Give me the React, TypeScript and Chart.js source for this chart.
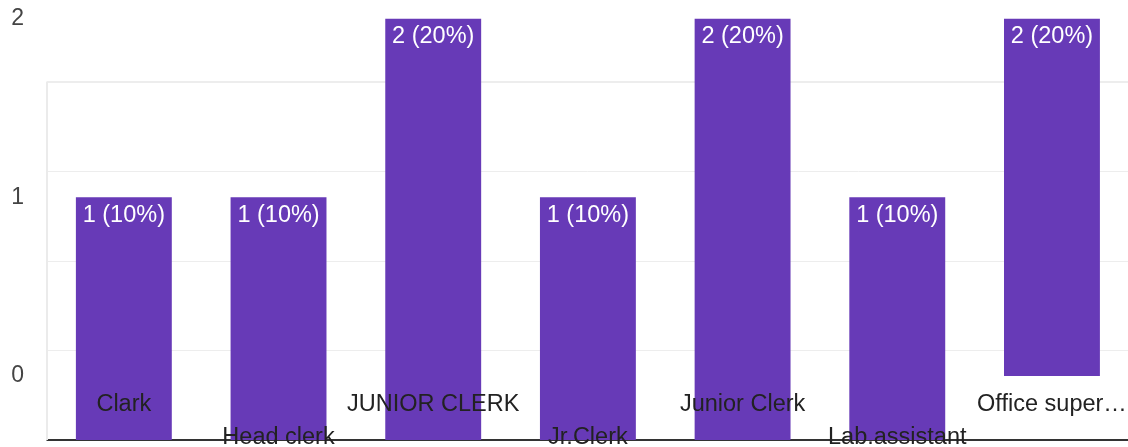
import React, { useEffect, useRef } from "react";
import { Chart, registerables } from "chart.js";

Chart.register(...registerables);

const CATEGORIES = [
  "Clark",
  "Head clerk",
  "JUNIOR CLERK",
  "Jr.Clerk",
  "Junior Clerk",
  "Lab.assistant",
  "Office super…",
];
const COUNTS = [1, 1, 2, 1, 2, 1, 2];
const PERCENTS = [10, 10, 20, 10, 20, 10, 20];
const Y_TICKS = [0, 1, 2];
const Y_MIN = -0.358;
const Y_MAX = 2;
const GRID_VALUES = [0, 1, 2, 3, 4];
const GRID_MAX = 4.71;

const FONT = '"Liberation Sans", Arial, sans-serif';
const BAR_COLOR = "#673ab7";

const overlay = {
  id: "overlay",
  beforeDatasetsDraw(chart: any) {
    const { ctx, chartArea } = chart;
    const g = chart.scales.grid;
    ctx.save();
    ctx.strokeStyle = "#ebebeb";
    ctx.lineWidth = 2;
    ctx.beginPath();
    const x = chartArea.left + 0.5;
    ctx.moveTo(x, g.getPixelForValue(GRID_VALUES[GRID_VALUES.length - 1]));
    ctx.lineTo(x, chartArea.bottom);
    ctx.stroke();
    ctx.restore();
  },
  afterDatasetsDraw(chart: any) {
    const { ctx, chartArea } = chart;
    const xs = chart.scales.x;
    const ys = chart.scales.y;
    ctx.save();
    ctx.font = `23.5px ${FONT}`;
    ctx.textAlign = "center";
    ctx.textBaseline = "alphabetic";
    COUNTS.forEach((v, i) => {
      const x = xs.getPixelForValue(i);
      const top = ys.getPixelForValue(v);
      ctx.fillStyle = "#ffffff";
      ctx.fillText(`${v} (${PERCENTS[i]}%)`, x, top + 24.5);
    });
    CATEGORIES.forEach((c, i) => {
      ctx.fillStyle = "#222222";
      const y = i % 2 === 0 ? chartArea.bottom - 29 : chartArea.bottom + 3.5;
      ctx.fillText(c, xs.getPixelForValue(i), y);
    });
    ctx.restore();
  },
};

export default function App() {
  const ref = useRef<HTMLCanvasElement | null>(null);

  useEffect(() => {
    if (!ref.current) return;
    const last = COUNTS.length - 1;
    const chart = new Chart(ref.current, {
      type: "bar",
      data: {
        labels: CATEGORIES,
        datasets: [
          {
            data: COUNTS.map((v, i) => (i < last ? v : null)),
            backgroundColor: BAR_COLOR,
            base: Y_MIN,
            grouped: false,
            barPercentage: 0.62,
            categoryPercentage: 1,
            yAxisID: "y",
          } as any,
          {
            data: COUNTS.map((v, i) => (i === last ? v : null)),
            backgroundColor: BAR_COLOR,
            grouped: false,
            barPercentage: 0.62,
            categoryPercentage: 1,
            yAxisID: "y",
          } as any,
        ],
      },
      options: {
        animation: false,
        responsive: false,
        devicePixelRatio: 1,
        layout: { padding: { top: 18.5, bottom: 7, left: 0, right: 0.7 } },
        plugins: {
          legend: { display: false },
          tooltip: { enabled: false },
        },
        scales: {
          x: {
            type: "category",
            display: false,
            offset: true,
            grid: { display: false },
          },
          y: {
            type: "linear",
            position: "left",
            min: Y_MIN,
            max: Y_MAX,
            grid: { display: false, drawTicks: false },
            border: { display: false },
            afterBuildTicks: (s: any) => {
              s.ticks = Y_TICKS.map((v) => ({ value: v }));
            },
            afterFit: (s: any) => {
              s.width = 46.5;
              s.paddingTop = 0;
              s.paddingBottom = 0;
            },
            ticks: {
              padding: 22.5,
              color: "#444444",
              font: { size: 23, family: FONT },
            },
          },
          grid: {
            type: "linear",
            position: "right",
            min: 0,
            max: GRID_MAX,
            afterBuildTicks: (s: any) => {
              s.ticks = GRID_VALUES.map((v) => ({ value: v }));
            },
            afterFit: (s: any) => {
              s.width = 0;
              s.paddingTop = 0;
              s.paddingBottom = 0;
            },
            ticks: { display: false },
            border: { display: false },
            grid: {
              drawTicks: false,
              color: (c: any) =>
                c.tick && c.tick.value === 0 ? "#333333" : "#ededed",
              lineWidth: (c: any) =>
                c.tick && (c.tick.value === 0 || c.tick.value === 4) ? 2 : 1,
            },
          },
        },
      },
      plugins: [overlay],
    } as any);
    return () => chart.destroy();
  }, []);

  return (
    <div
      style={{
        position: "fixed",
        left: 0,
        top: 0,
        width: 1128,
        height: 447,
        overflow: "hidden",
        background: "#fff",
      }}
    >
      <canvas ref={ref} width={1130} height={447} style={{ display: "block" }} />
    </div>
  );
}
